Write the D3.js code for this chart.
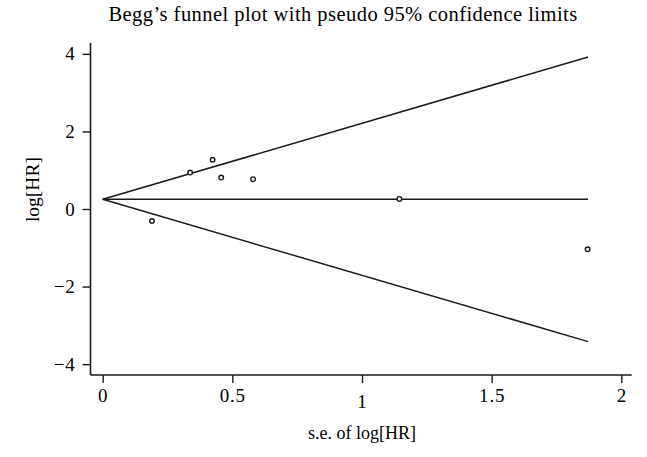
<!DOCTYPE html>
<html>
<head>
<meta charset="utf-8">
<script src="https://cdn.jsdelivr.net/npm/d3@7"></script>
<style>
  body { margin: 0; background: #fff; }
  svg { display: block; font-family: "Liberation Serif", "DejaVu Serif", serif; }
</style>
</head>
<body>
<svg id="chart" width="647" height="457"></svg>
<script>
// Data
const studySE = [0.190, 0.337, 0.424, 0.457, 0.580, 1.144, 1.870];
const studyLogHR = [-0.31, 0.94, 1.27, 0.81, 0.77, 0.26, -1.04];
const pooledLogHR = 0.25;
const maxSE = 1.872;
const xTicks = [0, 0.5, 1, 1.5, 2];
const yTicks = [-4, -2, 0, 2, 4];
const titleText = "Begg\u2019s funnel plot with pseudo 95% confidence limits";
const xLabel = "s.e. of log[HR]";
const yLabel = "log[HR]";

const svg = d3.select("#chart");

const x = d3.scaleLinear().domain([-0.047, 2.04]).range([90.5, 631.7]);
const y = d3.scaleLinear().domain([-4.28, 4.28]).range([375, 43]);

const ink = "#1a1a1a";

// Axes
const yAxis = d3.axisLeft(y).tickValues(yTicks).tickSize(8).tickPadding(7)
  .tickFormat(d => d < 0 ? "\u2212" + Math.abs(d) : String(d));
const xAxis = d3.axisBottom(x).tickValues(xTicks).tickSize(8).tickPadding(6)
  .tickFormat(d => String(d));

const gy = svg.append("g").attr("transform", `translate(${x.range()[0]},0)`).call(yAxis);
const gx = svg.append("g").attr("transform", `translate(0,${y.range()[0]})`).call(xAxis);

[gx, gy].forEach(g => {
  g.select(".domain").remove();
  g.selectAll(".tick line").attr("stroke", ink).attr("stroke-width", 1.4);
  g.selectAll(".tick text").attr("fill", "#000").style("font-size", "19px")
    .style("letter-spacing", "0.8px")
    .style("font-family", '"Liberation Serif", serif');
});
// old-style "1" sits lower in the reference
gx.selectAll(".tick text").filter(d => d === 1).attr("dy", "1.0em");

// axis lines
svg.append("line")
  .attr("x1", x.range()[0]).attr("x2", x.range()[0])
  .attr("y1", y.range()[1]).attr("y2", y.range()[0])
  .attr("stroke", ink).attr("stroke-width", 1.6);
svg.append("line")
  .attr("x1", x.range()[0]).attr("x2", x.range()[1])
  .attr("y1", y.range()[0]).attr("y2", y.range()[0])
  .attr("stroke", ink).attr("stroke-width", 1.6);

// Funnel lines
const line = d3.line().x(d => x(d[0])).y(d => y(d[1]));
const funnel = [
  [[0, pooledLogHR], [maxSE, pooledLogHR + 1.96 * maxSE]],
  [[0, pooledLogHR], [maxSE, pooledLogHR]],
  [[0, pooledLogHR], [maxSE, pooledLogHR - 1.96 * maxSE]]
];
svg.append("g").selectAll("path").data(funnel).join("path")
  .attr("d", line).attr("fill", "none").attr("stroke", ink).attr("stroke-width", 1.5);

// Points
svg.append("g").selectAll("circle").data(studySE.map((s, i) => [s, studyLogHR[i]])).join("circle")
  .attr("cx", d => x(d[0])).attr("cy", d => y(d[1])).attr("r", 2.3)
  .attr("fill", "#fff").attr("stroke", ink).attr("stroke-width", 1.4);

// Titles
svg.append("text").attr("x", 343).attr("y", 21).attr("text-anchor", "middle")
  .style("font-size", "20.5px").style("letter-spacing", "0.45px")
  .attr("fill", "#000").text(titleText);
svg.append("text").attr("x", x(1)).attr("y", 439).attr("text-anchor", "middle")
  .style("font-size", "18px").attr("fill", "#000").text(xLabel);
svg.append("text").attr("transform", `translate(39,${y(0.5)}) rotate(-90)`)
  .attr("text-anchor", "middle")
  .style("font-size", "19.5px").attr("fill", "#000").text(yLabel);
</script>
</body>
</html>
